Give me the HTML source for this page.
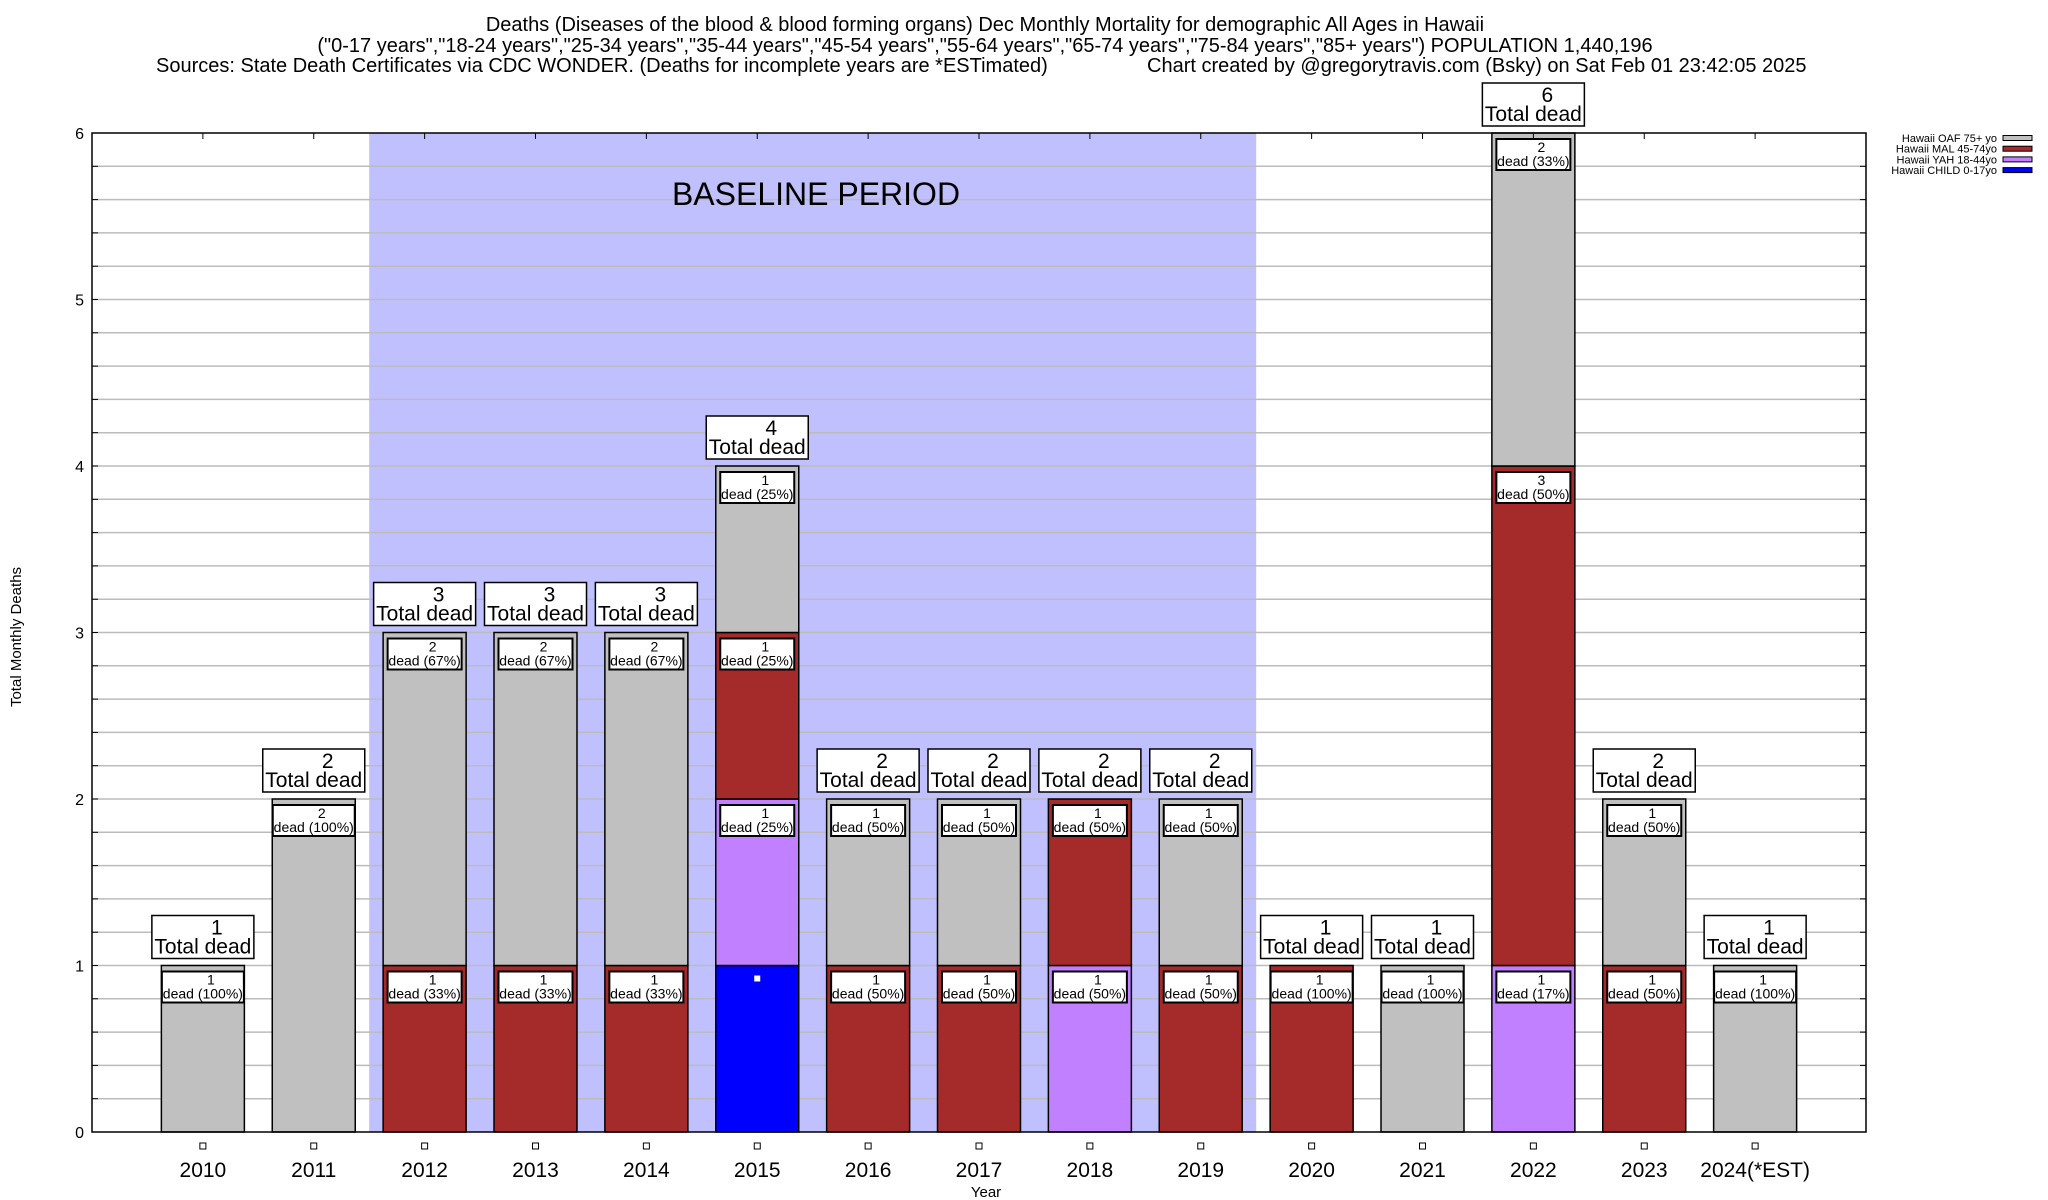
<!DOCTYPE html>
<html><head><meta charset="utf-8"><style>
html,body{margin:0;padding:0;background:#fff;}
svg{display:block;font-family:"Liberation Sans",Arial,sans-serif;}
</style></head><body>
<svg id="s" width="2048" height="1200" xmlns="http://www.w3.org/2000/svg"></svg>
<script>
(function(){
var s=document.getElementById('s');var h='';
var L=92,R=1866,T=133,B=1132,U=166.5,st=(R-L)/16;
function y(v){return B-U*v;}
function cx(i){return L+st*(i+1);}
h+='<rect x="0" y="0" width="2048" height="1200" fill="#fff"/>';
h+='<rect x="'+(cx(2)-st/2)+'" y="'+T+'" width="'+(st*8)+'" height="'+(B-T)+'" fill="#c0c0ff"/>';
for(var k=1;k<30;k++){var yy=B-U*k/5;h+='<line x1="'+L+'" x2="'+R+'" y1="'+yy+'" y2="'+yy+'" stroke="#bcbcbc" stroke-width="1.5"/>';
h+='<line x1="'+L+'" x2="'+(L+6)+'" y1="'+yy+'" y2="'+yy+'" stroke="#000"/><line x1="'+R+'" x2="'+(R-6)+'" y1="'+yy+'" y2="'+yy+'" stroke="#000"/>';}
h+='<text x="816" y="205" font-size="32" text-anchor="middle">BASELINE PERIOD</text>';
var col={O:'#c0c0c0',M:'#a52a2a',Y:'#c080ff',C:'#0000ff'};
var years=['2010','2011','2012','2013','2014','2015','2016','2017','2018','2019','2020','2021','2022','2023','2024(*EST)'];
var D=[
[['O',1,'100%']],
[['O',2,'100%']],
[['M',1,'33%'],['O',2,'67%']],
[['M',1,'33%'],['O',2,'67%']],
[['M',1,'33%'],['O',2,'67%']],
[['C',1,null],['Y',1,'25%'],['M',1,'25%'],['O',1,'25%']],
[['M',1,'50%'],['O',1,'50%']],
[['M',1,'50%'],['O',1,'50%']],
[['Y',1,'50%'],['M',1,'50%']],
[['M',1,'50%'],['O',1,'50%']],
[['M',1,'100%']],
[['O',1,'100%']],
[['Y',1,'17%'],['M',3,'50%'],['O',2,'33%']],
[['M',1,'50%'],['O',1,'50%']],
[['O',1,'100%']]];
for(var i=0;i<15;i++){
 var c=cx(i),base=0,x=c-41.5,d=D[i];
 for(var j=0;j<d.length;j++){var sg=d[j];
  h+='<rect x="'+x+'" y="'+y(base+sg[1])+'" width="83" height="'+(U*sg[1])+'" fill="'+col[sg[0]]+'" stroke="#000" stroke-width="1.5"/>';
  base+=sg[1];}
 base=0;
 for(var j=0;j<d.length;j++){var sg=d[j];base+=sg[1];var tp=y(base);
  if(sg[2]){var w=sg[2]=='100%'?82:74;
   h+='<rect x="'+(c-w/2)+'" y="'+(tp+6)+'" width="'+w+'" height="31" fill="#fff" stroke="#000" stroke-width="2"/>';
   h+='<text x="'+(c+8)+'" y="'+(tp+19)+'" font-size="14" text-anchor="middle">'+sg[1]+'</text>';
   h+='<text x="'+c+'" y="'+(tp+33)+'" font-size="14" text-anchor="middle">dead ('+sg[2]+')</text>';
  } else {h+='<rect x="'+(c-3)+'" y="'+(tp+10)+'" width="6" height="6" fill="#fff"/>';}
 }
 var bt=y(base)-7;
 h+='<rect x="'+(c-51)+'" y="'+(bt-43)+'" width="102" height="43" fill="#fff" stroke="#000" stroke-width="1.5"/>';
 h+='<text x="'+(c+14)+'" y="'+(bt-24)+'" font-size="21" text-anchor="middle">'+base+'</text>';
 h+='<text x="'+c+'" y="'+(bt-5)+'" font-size="21" text-anchor="middle">Total dead</text>';
 h+='<rect x="'+(c-3)+'" y="1143" width="6" height="6" fill="#fff" stroke="#000" stroke-width="1"/>';
 h+='<line x1="'+c+'" x2="'+c+'" y1="'+T+'" y2="'+(T+6)+'" stroke="#000"/>';
 h+='<text x="'+c+'" y="1177" font-size="21" text-anchor="middle">'+years[i]+'</text>';
}
h+='<rect x="'+L+'" y="'+T+'" width="'+(R-L)+'" height="'+(B-T)+'" fill="none" stroke="#000" stroke-width="1.5"/>';
for(var v=0;v<=6;v++)h+='<text x="84" y="'+(y(v)+6)+'" font-size="16" text-anchor="end">'+v+'</text>';
h+='<text x="986" y="1197" font-size="15" text-anchor="middle">Year</text>';
h+='<text transform="translate(21,637) rotate(-90)" font-size="15" text-anchor="middle">Total Monthly Deaths</text>';
var t=['Deaths (Diseases of the blood &amp; blood forming organs) Dec Monthly Mortality for demographic All Ages in Hawaii','("0-17 years","18-24 years","25-34 years","35-44 years","45-54 years","55-64 years","65-74 years","75-84 years","85+ years") POPULATION 1,440,196'];
h+='<text x="985" y="31" font-size="20" text-anchor="middle">'+t[0]+'</text>';
h+='<text x="985" y="52" font-size="20" text-anchor="middle">'+t[1]+'</text>';
h+='<text x="156" y="72" font-size="20">Sources: State Death Certificates via CDC WONDER. (Deaths for incomplete years are *ESTimated)</text>';
h+='<text x="1147" y="72" font-size="20">Chart created by @gregorytravis.com (Bsky) on Sat Feb 01 23:42:05 2025</text>';
var lg=[['Hawaii OAF 75+ yo','O'],['Hawaii MAL 45-74yo','M'],['Hawaii YAH 18-44yo','Y'],['Hawaii CHILD 0-17yo','C']];
for(var k=0;k<4;k++){var yy=138+k*10.7;
 h+='<text x="1997" y="'+(yy+4)+'" font-size="11" text-anchor="end">'+lg[k][0]+'</text>';
 h+='<rect x="2003" y="'+(yy-2.5)+'" width="29" height="5" fill="'+col[lg[k][1]]+'" stroke="#000" stroke-width="1"/>';}
s.innerHTML=h;
})();
</script>
</body></html>
